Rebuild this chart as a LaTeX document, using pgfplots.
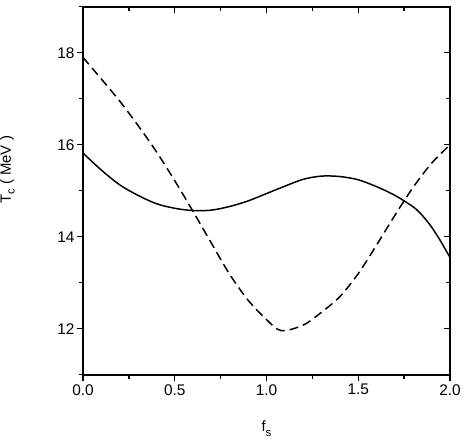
\documentclass[border=0pt]{standalone}
\usepackage{fontspec}
\setmainfont{Liberation Sans}
\usepackage{graphicx}
\usepackage{pgfplots}
\pgfplotsset{compat=1.18}

\pgfplotstableread{
x     y
0.00  15.82
0.10  15.45
0.20  15.13
0.30  14.90
0.40  14.72
0.50  14.62
0.60  14.57
0.70  14.58
0.80  14.66
0.90  14.78
1.00  14.94
1.10  15.10
1.20  15.25
1.30  15.32
1.40  15.31
1.50  15.24
1.60  15.09
1.70  14.90
1.80  14.65
1.85  14.46
1.90  14.21
1.95  13.90
2.00  13.55
}\solid

\pgfplotstableread{
x     y
0.00  17.90
0.10  17.43
0.20  16.95
0.30  16.42
0.40  15.85
0.50  15.22
0.60  14.55
0.70  13.86
0.80  13.18
0.90  12.62
1.00  12.20
1.08  11.96
1.20  12.08
1.30  12.36
1.40  12.70
1.50  13.20
1.60  13.82
1.70  14.47
1.80  15.08
1.90  15.60
2.00  16.00
}\dashed

\pgfplotsset{
  frame/.style={
    width=369pt, height=370pt, scale only axis,
    xmin=0, xmax=2, ymin=11, ymax=19,
    xtick={0,0.5,1,1.5,2}, ytick={12,14,16,18},
    minor xtick={0.25,0.75,1.25,1.75},
    minor ytick={11,13,15,17,19},
    axis line style={line width=1.5pt},
    every tick/.append style={line width=1.3pt, black},
    major tick length=6pt, minor tick length=4pt,
    tick label style={font=\fontsize{15.5}{18}\selectfont},
    /pgf/number format/assume math mode=true,
  },
}

\begin{document}
\begin{tikzpicture}
\begin{axis}[frame,
    tick align=outside,
    xtick pos=lower, ytick pos=left,
    xticklabel style={/pgf/number format/.cd, fixed, fixed zerofill, precision=1},
    yticklabel style={xshift=1pt},
    xlabel={f\raisebox{-0.6ex}{\fontsize{11.5}{12}\selectfont s}},
    xlabel style={at={(axis description cs:0.5,0)}, anchor=base, yshift=-57pt,
                  font=\fontsize{15}{18}\selectfont},
]
\addplot[black, line width=1.5pt, smooth] table {\solid};
\addplot[black, line width=1.5pt, smooth, dash pattern=on 9pt off 5pt] table {\dashed};
\coordinate (bl) at (axis description cs:0,0);
\coordinate (tr) at (axis description cs:1,1);
\end{axis}
\begin{axis}[frame,
    tick align=inside,
    xtick pos=upper, ytick pos=right,
    xticklabels={}, yticklabels={},
    axis line style={draw=none},
]
\end{axis}
\path (bl) ++(-76pt,206pt) node[anchor=center, inner sep=0pt, font=\fontsize{15}{18}\selectfont]
  {\rotatebox{90}{T\raisebox{-0.5ex}{\fontsize{11.5}{12}\selectfont c} ( MeV )}};
\path (bl) ++(-83pt,-65pt) coordinate (a);
\path (tr) ++(12pt,1pt) coordinate (b);
\path (a) rectangle (b);
\end{tikzpicture}
\end{document}
